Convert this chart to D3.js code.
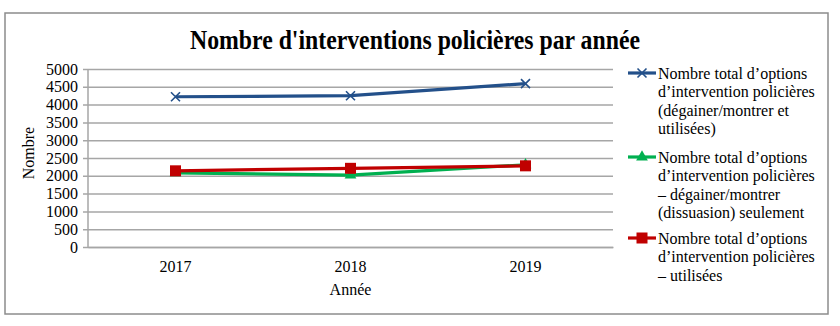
<!DOCTYPE html>
<html>
<head>
<meta charset="utf-8">
<script src="https://cdn.jsdelivr.net/npm/d3@7/dist/d3.min.js"></script>
<style>
  html, body { margin: 0; padding: 0; background: #fff; }
  svg, svg text { font-family: "Liberation Serif", "Times New Roman", serif !important; }
</style>
</head>
<body>
<svg id="chart" width="840" height="326"></svg>
<script>
// Years on the category axis
const years = ["2017", "2018", "2019"];
// Series values
const totalValues = [4220, 4250, 4590];
const drawnOnlyValues = [2080, 2020, 2310];
const usedValues = [2140, 2210, 2280];
// Y-axis ticks
const yTicks = [0, 500, 1000, 1500, 2000, 2500, 3000, 3500, 4000, 4500, 5000];
// Legend labels (one array of lines per series)
const seriesNames = [
  ["Nombre total d\u2019options", "d\u2019intervention policières", "(dégainer/montrer et", "utilisées)"],
  ["Nombre total d\u2019options", "d\u2019intervention policières", "\u2013 dégainer/montrer", "(dissuasion) seulement"],
  ["Nombre total d\u2019options", "d\u2019intervention policières", "\u2013 utilisées"]
];

const series = [
  { values: totalValues, color: "#23508a", marker: "x", names: seriesNames[0] },
  { values: drawnOnlyValues, color: "#00b050", marker: "triangle", names: seriesNames[1] },
  { values: usedValues, color: "#c00000", marker: "square", names: seriesNames[2] }
];

const serif = "'Liberation Serif', 'Times New Roman', serif";
const svg = d3.select("#chart");

// Outer frame
svg.append("rect")
  .attr("x", 5).attr("y", 13).attr("width", 823).attr("height", 301)
  .attr("fill", "#fff").attr("stroke", "#8c8c8c").attr("stroke-width", 1.5);

// Title
svg.append("text")
  .attr("x", 415).attr("y", 49)
  .attr("text-anchor", "middle")
  .attr("font-size", 27).attr("font-weight", "bold")
  .attr("textLength", 450).attr("lengthAdjust", "spacingAndGlyphs")
  .attr("fill", "#000")
  .style("font-family", serif)
  .text("Nombre d'interventions policières par année");

const plot = { left: 88, right: 613, top: 69, bottom: 247 };

const x = d3.scaleBand().domain(years).range([plot.left, plot.right]);
const y = d3.scaleLinear().domain([0, 5000]).range([plot.bottom, plot.top]);

// Gridlines with outward ticks
const yAxis = d3.axisLeft(y).tickValues(yTicks)
  .tickSize(-(plot.right - plot.left)).tickPadding(10).tickFormat(d3.format("d"));
const gy = svg.append("g").attr("transform", `translate(${plot.left},0)`).call(yAxis)
  .attr("font-family", null);
gy.select(".domain").remove();
gy.selectAll(".tick line")
  .attr("x1", -5)
  .attr("stroke", "#a6a6a6").attr("stroke-width", 1.5);
gy.selectAll(".tick text")
  .attr("font-size", 16).attr("fill", "#000")
  .style("font-family", serif);

// Vertical axis line
svg.append("line")
  .attr("x1", plot.left).attr("x2", plot.left)
  .attr("y1", plot.top).attr("y2", plot.bottom)
  .attr("stroke", "#a6a6a6").attr("stroke-width", 1.5);

// Category axis labels
const xAxis = d3.axisBottom(x).tickSize(0).tickPadding(14);
const gx = svg.append("g").attr("transform", `translate(0,${plot.bottom})`).call(xAxis)
  .attr("font-family", null);
gx.select(".domain").attr("stroke", "#a6a6a6").attr("stroke-width", 1.5);
gx.selectAll(".tick text")
  .attr("font-size", 16).attr("fill", "#000")
  .style("font-family", serif);

// Axis titles
svg.append("text")
  .attr("transform", "translate(34,153) rotate(-90)")
  .attr("text-anchor", "middle").attr("font-size", 16).attr("fill", "#000")
  .style("font-family", serif)
  .text("Nombre");
svg.append("text")
  .attr("x", x("2018") + x.bandwidth() / 2).attr("y", 295)
  .attr("text-anchor", "middle").attr("font-size", 16).attr("fill", "#000")
  .style("font-family", serif)
  .text("Année");

function drawMarker(g, type, color, cx, cy) {
  if (type === "x") {
    const s = 4.5;
    g.append("path")
      .attr("d", `M${cx - s},${cy - s}L${cx + s},${cy + s}M${cx - s},${cy + s}L${cx + s},${cy - s}`)
      .attr("stroke", color).attr("stroke-width", 1.6).attr("fill", "none");
  } else if (type === "triangle") {
    g.append("path")
      .attr("d", d3.symbol(d3.symbolTriangle, 60)())
      .attr("transform", `translate(${cx},${cy})`)
      .attr("fill", color);
  } else {
    const s = 11;
    g.append("rect")
      .attr("x", cx - s / 2).attr("y", cy - s / 2)
      .attr("width", s).attr("height", s)
      .attr("fill", color);
  }
}

const line = d3.line()
  .x((d, i) => x(years[i]) + x.bandwidth() / 2)
  .y(d => y(d));

series.forEach(s => {
  const g = svg.append("g");
  g.append("path")
    .datum(s.values)
    .attr("d", line)
    .attr("fill", "none")
    .attr("stroke", s.color).attr("stroke-width", 3.2)
    .attr("stroke-linejoin", "round");
  s.values.forEach((v, i) => {
    drawMarker(g, s.marker, s.color, x(years[i]) + x.bandwidth() / 2, y(v));
  });
});

// Legend
const legendStarts = [73, 157, 238];
const lineGap = 18.6;
series.forEach((s, k) => {
  const g = svg.append("g");
  const cy = legendStarts[k];
  g.append("line")
    .attr("x1", 628).attr("x2", 656).attr("y1", cy).attr("y2", cy)
    .attr("stroke", s.color).attr("stroke-width", 3.2);
  drawMarker(g, s.marker, s.color, 642, cy);
  s.names.forEach((t, j) => {
    g.append("text")
      .attr("x", 658).attr("y", cy + j * lineGap + 5.5)
      .attr("font-size", 16).attr("fill", "#000")
      .style("font-family", serif)
      .text(t);
  });
});
</script>
</body>
</html>
